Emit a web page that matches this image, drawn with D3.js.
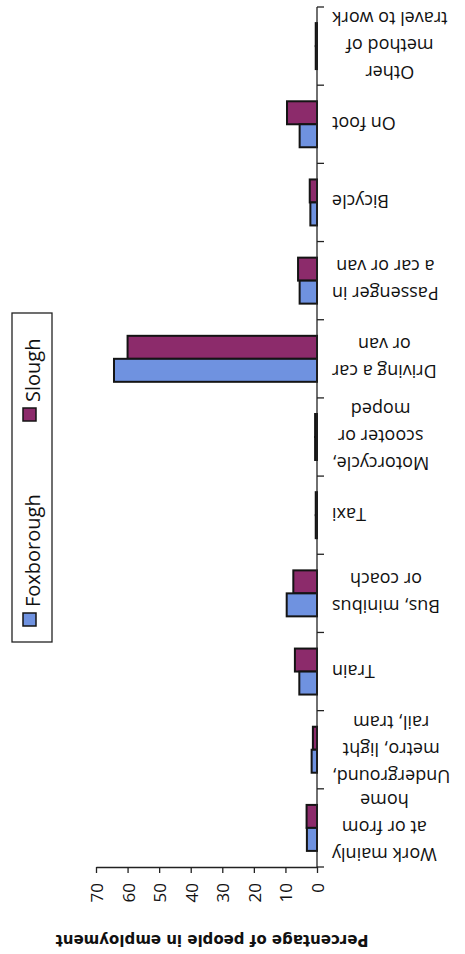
<!DOCTYPE html>
<html>
<head>
<meta charset="utf-8">
<script src="https://cdn.jsdelivr.net/npm/d3@7"></script>
<style>
  html, body { margin: 0; padding: 0; background: #ffffff; }
  svg { display: block; }
</style>
</head>
<body>
<svg id="chart" width="465" height="954"></svg>
<script>
// ---- data (chart is printed upside down) ----
const categories = [
  "Work mainly at or from home",
  "Underground, metro, light rail, tram",
  "Train",
  "Bus, minibus or coach",
  "Taxi",
  "Motorcycle, scooter or moped",
  "Driving a car or van",
  "Passenger in a car or van",
  "Bicycle",
  "On foot",
  "Other method of travel to work"
];
const categoryLines = [
  ["Work mainly", "at or from", "home"],
  ["Underground,", "metro, light", "rail, tram"],
  ["Train"],
  ["Bus, minibus", "or coach"],
  ["Taxi"],
  ["Motorcycle,", "scooter or", "moped"],
  ["Driving a car", "or van"],
  ["Passenger in", "a car or van"],
  ["Bicycle"],
  ["On foot"],
  ["Other", "method of", "travel to work"]
];
const seriesNames = ["Foxborough", "Slough"];
const foxborough = [3.2, 1.7, 5.6, 9.6, 0.4, 0.6, 64.3, 5.5, 2.1, 5.5, 0.4];
const slough     = [3.3, 1.3, 7.0, 7.5, 0.4, 0.6, 60.0, 6.0, 2.3, 9.5, 0.4];
const valueTicks = [0, 10, 20, 30, 40, 50, 60, 70];
const axisTitle = "Percentage of people in employment";
const colors = { "Foxborough": "#6f92e0", "Slough": "#8c2b6b" };

const svg = d3.select("#chart");
const labelFont = "'Open Sans', 'Noto Sans', sans-serif";

// scales
const x = d3.scaleLinear().domain([0, 70]).range([317, 96]);
const y = d3.scaleBand().domain(categories).range([867, 7]).paddingInner(0).paddingOuter(0);
const sub = d3.scaleBand().domain(["Slough", "Foxborough"]).range([0, y.bandwidth()]).paddingInner(0).paddingOuter(0.7);

const rows = categories.map((c, i) => ({ c, i, Foxborough: foxborough[i], Slough: slough[i] }));

// bars
const gBars = svg.append("g");
rows.forEach(r => {
  ["Slough", "Foxborough"].forEach(s => {
    gBars.append("rect")
      .attr("x", x(r[s]))
      .attr("y", y(r.c) + sub(s))
      .attr("width", x(0) - x(r[s]))
      .attr("height", sub.bandwidth())
      .attr("fill", colors[s])
      .attr("stroke", "#141414")
      .attr("stroke-width", 2);
  });
});

// category axis (vertical line with boundary ticks)
const gCat = svg.append("g");
gCat.append("line")
  .attr("x1", x(0)).attr("x2", x(0))
  .attr("y1", y.range()[1]).attr("y2", y.range()[0])
  .attr("stroke", "#222").attr("stroke-width", 1.3);
const bounds = categories.map(c => y(c)).concat([y(categories[0]) + y.bandwidth()]);
gCat.selectAll("line.tick").data(bounds).enter().append("line")
  .attr("class", "tick")
  .attr("x1", x(0)).attr("x2", x(0) + 7)
  .attr("y1", d => d).attr("y2", d => d)
  .attr("stroke", "#222").attr("stroke-width", 1.3);

// category labels (upside down, block right-aligned to the axis, lines centered)
const lineStep = 27;
rows.forEach(r => {
  const lines = categoryLines[r.i];
  const g = gCat.append("g");
  const texts = lines.map((ln, k) => g.append("text")
    .attr("x", 0)
    .attr("y", (k - (lines.length - 1) / 2) * lineStep)
    .attr("text-anchor", "middle")
    .attr("dominant-baseline", "central")
    .attr("font-family", labelFont)
    .attr("font-size", 18)
    .attr("fill", "#111")
    .text(ln));
  const w = d3.max(texts, t => t.node().getComputedTextLength());
  const cx = x(0) + 15 + w / 2;
  const cy = y(r.c) + y.bandwidth() / 2;
  g.attr("transform", `translate(${cx},${cy}) rotate(180)`);
});

// value axis
const gVal = svg.append("g").attr("transform", "translate(0,867)");
gVal.call(d3.axisBottom(x).tickValues(valueTicks).tickSize(6).tickSizeOuter(0).tickFormat(d3.format("d")));
gVal.select(".domain").attr("stroke", "#222").attr("stroke-width", 1.3);
gVal.selectAll(".tick line").attr("stroke", "#222").attr("stroke-width", 1.3);
gVal.selectAll(".tick text")
  .attr("x", 0).attr("y", 0).attr("dy", null)
  .attr("transform", "translate(0,16) rotate(-90)")
  .attr("text-anchor", "end")
  .attr("dominant-baseline", "central")
  .attr("font-family", labelFont)
  .attr("font-size", 17)
  .attr("fill", "#111");

// axis title (upside down)
svg.append("text")
  .attr("transform", "translate(212,940) rotate(180)")
  .attr("text-anchor", "middle")
  .attr("dominant-baseline", "central")
  .attr("font-family", "'DejaVu Sans', sans-serif")
  .attr("font-weight", "bold")
  .attr("font-size", 15)
  .attr("fill", "#111")
  .text(axisTitle);

// legend (rotated, reading bottom to top)
const gLeg = svg.append("g");
gLeg.append("rect")
  .attr("x", 12).attr("y", 313).attr("width", 40).attr("height", 329)
  .attr("fill", "#fff").attr("stroke", "#222").attr("stroke-width", 1.3);
const legItems = [
  { name: "Foxborough", sy: 613, ty: 607 },
  { name: "Slough", sy: 408, ty: 402 }
];
legItems.forEach(it => {
  gLeg.append("rect")
    .attr("x", 23).attr("y", it.sy).attr("width", 13).attr("height", 13)
    .attr("fill", colors[it.name]).attr("stroke", "#141414").attr("stroke-width", 1.5);
  gLeg.append("text")
    .attr("transform", `translate(32,${it.ty}) rotate(-90)`)
    .attr("text-anchor", "start")
    .attr("dominant-baseline", "central")
    .attr("font-family", labelFont)
    .attr("font-size", 20)
    .attr("fill", "#111")
    .text(it.name);
});
</script>
</body>
</html>
